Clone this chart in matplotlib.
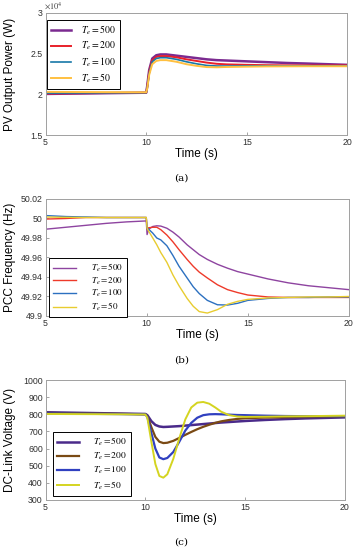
import numpy as np
import matplotlib.pyplot as plt

plt.rcParams['font.family'] = ['Liberation Sans', 'DejaVu Sans']
plt.rcParams['mathtext.fontset'] = 'stix'

labels = [r'$T_e = 500$', r'$T_e = 200$', r'$T_e = 100$', r'$T_e = 50$']

# (a) PV output power, x10^4 W
t_a = [5, 10, 10.05, 10.15, 10.3, 10.5, 10.7, 11, 11.5, 12, 12.5, 13, 13.5, 14, 15, 16, 17, 18, 20]
pv_500 = [2.005, 2.02, 2.10, 2.30, 2.44, 2.48, 2.49, 2.49, 2.475, 2.46, 2.445, 2.43, 2.42, 2.415, 2.405, 2.395, 2.385, 2.378, 2.362]
pv_200 = [2.01, 2.02, 2.09, 2.28, 2.42, 2.46, 2.47, 2.47, 2.455, 2.43, 2.41, 2.39, 2.375, 2.368, 2.362, 2.358, 2.356, 2.355, 2.355]
pv_100 = [2.015, 2.02, 2.08, 2.26, 2.40, 2.44, 2.45, 2.45, 2.43, 2.40, 2.375, 2.355, 2.348, 2.347, 2.35, 2.35, 2.35, 2.35, 2.35]
pv_50 = [2.03, 2.025, 2.07, 2.24, 2.37, 2.41, 2.42, 2.42, 2.40, 2.37, 2.35, 2.335, 2.332, 2.336, 2.34, 2.343, 2.344, 2.345, 2.345]

# (b) PCC frequency, Hz
t_b = [5, 6, 7, 8, 9, 9.98, 10.02, 10.1, 10.3, 10.5, 10.7, 11, 11.3, 11.6, 12, 12.3, 12.6, 13, 13.5, 14, 14.5, 15, 16, 17, 18, 19, 20]
f_500 = [49.989, 49.991, 49.993, 49.995, 49.9965, 49.9975, 49.9835, 49.989, 49.9918, 49.9925, 49.9922, 49.990, 49.986, 49.981, 49.973, 49.968, 49.963, 49.958, 49.953, 49.949, 49.9455, 49.943, 49.938, 49.934, 49.931, 49.929, 49.927]
f_200 = [49.9994, 50.0, 50.001, 50.001, 50.001, 50.001, 49.9895, 49.9905, 49.991, 49.991, 49.9885, 49.983, 49.976, 49.968, 49.958, 49.951, 49.945, 49.939, 49.932, 49.927, 49.924, 49.9215, 49.9195, 49.919, 49.919, 49.919, 49.919]
f_100 = [50.003, 50.002, 50.0015, 50.001, 50.001, 50.001, 49.990, 49.989, 49.985, 49.980, 49.978, 49.972, 49.962, 49.951, 49.939, 49.930, 49.923, 49.916, 49.9115, 49.9112, 49.913, 49.916, 49.918, 49.919, 49.919, 49.9195, 49.9195]
f_50 = [50.0015, 50.0012, 50.001, 50.001, 50.001, 50.001, 49.990, 49.987, 49.980, 49.973, 49.965, 49.955, 49.942, 49.931, 49.918, 49.910, 49.9045, 49.903, 49.9065, 49.912, 49.915, 49.917, 49.9185, 49.919, 49.9195, 49.9195, 49.92]

# (c) DC-link voltage, V
t_c = [5, 7, 9, 10, 10.1, 10.3, 10.5, 10.7, 10.9, 11.1, 11.4, 11.7, 12, 12.3, 12.6, 12.9, 13.2, 13.5, 13.8, 14.2, 14.6, 15, 16, 17, 18, 20]
v_500 = [812, 808, 804, 802, 795, 760, 738, 729, 726, 727, 729, 731, 734, 737, 740, 743, 746, 749, 752, 755, 758, 761, 767, 772, 776, 782]
v_200 = [808, 805, 802, 800, 790, 725, 668, 640, 632, 634, 645, 662, 680, 697, 713, 727, 739, 750, 759, 767, 773, 777, 781, 783, 784, 786]
v_100 = [805, 803, 801, 800, 785, 690, 600, 548, 538, 545, 580, 640, 705, 750, 780, 795, 800, 801, 800, 798, 796, 795, 792, 790, 789, 788]
v_50 = [802, 801, 800, 799, 780, 640, 510, 440, 430, 450, 540, 660, 770, 840, 868, 872, 862, 840, 815, 795, 787, 785, 786, 788, 789, 792]

fig = plt.figure(figsize=(3.56, 5.5), dpi=100)

def style(ax):
    for s in ax.spines.values():
        s.set_color('#a0a0a0')
        s.set_linewidth(0.7)
    ax.tick_params(direction='in', length=2, width=0.5, color='#808080', labelsize=6.3, pad=2,
                   labelcolor='#303030')
    ax.set_xlim(5, 20)
    ax.set_xticks([5, 10, 15, 20])
    ax.set_xlabel('Time (s)', fontsize=8.5, labelpad=1)
    ax.yaxis.set_label_coords(-0.098, 0.5)

def leg(ax, anchor, fs, hl, tp, ls, bp):
    lg = ax.legend(loc='upper left', bbox_to_anchor=anchor, borderaxespad=0, fontsize=fs,
                   handlelength=hl, handletextpad=tp, labelspacing=ls, fancybox=False,
                   framealpha=1, borderpad=bp)
    lg.get_frame().set_edgecolor('black')
    lg.get_frame().set_linewidth(0.7)

# panel a
ax1 = fig.add_axes([0.128, 0.7545, 0.848, 0.222])
ax1.plot(t_a, pv_500, color='#7b2a90', lw=1.8, label=labels[0])
ax1.plot(t_a, pv_200, color='#e8202a', lw=1.4, label=labels[1])
ax1.plot(t_a, pv_100, color='#1878a8', lw=1.2, label=labels[2])
ax1.plot(t_a, pv_50, color='#ffc040', lw=1.4, label=labels[3])
ax1.set_ylim(1.5, 3)
ax1.set_yticks([1.5, 2, 2.5, 3])
ax1.set_yticklabels(['1.5', '2', '2.5', '3'])
ax1.set_ylabel('PV Output Power (W)', fontsize=8.5)
ax1.text(-0.006, 1.012, r'$\times10^4$', transform=ax1.transAxes, fontsize=6, color='#404040',
         ha='left', va='bottom', family='DejaVu Sans')
style(ax1)
leg(ax1, (0.004, 0.945), 7, 2.1, 1.0, 0.3, 0.4)
fig.text(0.51, 0.676, '(a)', fontsize=7.5, family='DejaVu Serif', ha='center', va='center')

# panel b
ax2 = fig.add_axes([0.128, 0.4255, 0.852, 0.2127])
ax2.plot(t_b, f_500, color='#8e44a0', lw=1.0, label=labels[0])
ax2.plot(t_b, f_200, color='#ee3a2a', lw=1.0, label=labels[1])
ax2.plot(t_b, f_100, color='#2c70c0', lw=1.0, label=labels[2])
ax2.plot(t_b, f_50, color='#e8cc30', lw=1.0, label=labels[3])
ax2.set_ylim(49.9, 50.02)
ax2.set_yticks([49.9, 49.92, 49.94, 49.96, 49.98, 50.0, 50.02])
ax2.set_yticklabels(['49.9', '49.92', '49.94', '49.96', '49.98', '50', '50.02'])
ax2.set_ylabel('PCC Frequency (Hz)', fontsize=8.5)
style(ax2)
leg(ax2, (0.011, 0.496), 6.5, 2.6, 1.6, 0.15, 0.45)
fig.text(0.51, 0.345, '(b)', fontsize=7.5, family='DejaVu Serif', ha='center', va='center')

# panel c
ax3 = fig.add_axes([0.128, 0.091, 0.841, 0.218])
ax3.plot(t_c, v_500, color='#4a2a8a', lw=1.8, label=labels[0])
ax3.plot(t_c, v_200, color='#7a4a14', lw=1.6, label=labels[1])
ax3.plot(t_c, v_100, color='#3040c0', lw=1.6, label=labels[2])
ax3.plot(t_c, v_50, color='#d4d420', lw=1.4, label=labels[3])
ax3.set_ylim(300, 1000)
ax3.set_yticks(range(300, 1001, 100))
ax3.set_ylabel('DC-Link Voltage (V)', fontsize=8.5)
style(ax3)
leg(ax3, (0.024, 0.567), 6.8, 2.3, 1.5, 0.3, 0.45)
fig.text(0.51, 0.015, '(c)', fontsize=7.5, family='DejaVu Serif', ha='center', va='center')

fig.savefig('out.png', dpi=100)
